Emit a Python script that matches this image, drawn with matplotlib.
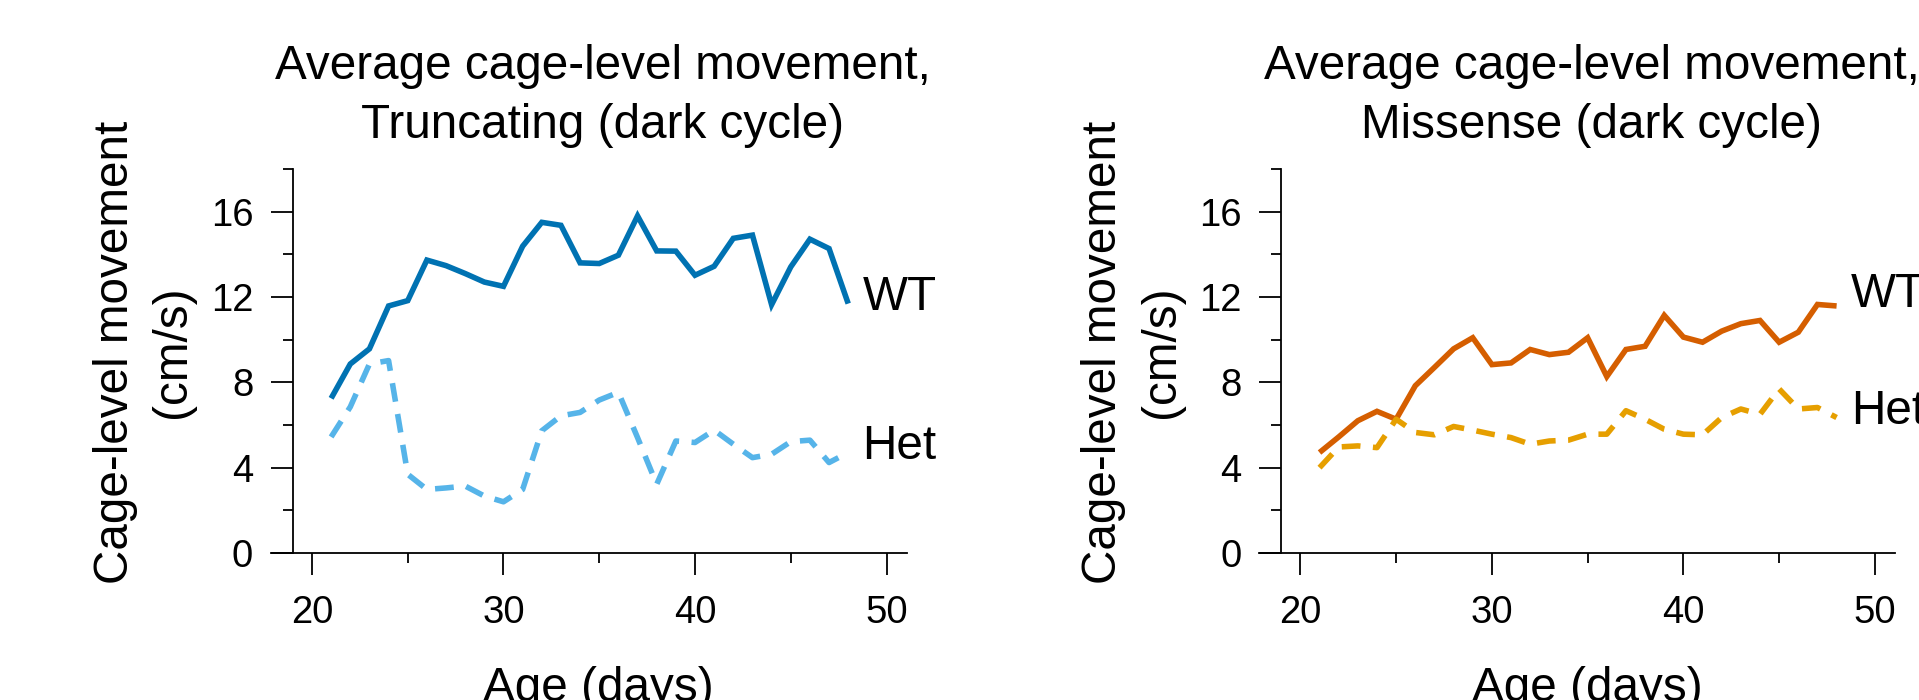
import matplotlib
matplotlib.use("Agg")
import matplotlib.pyplot as plt
from matplotlib.ticker import FixedLocator

plt.rcParams['font.family'] = ['Liberation Sans', 'DejaVu Sans']
plt.rcParams['lines.scale_dashes'] = False

# ---- data ----
days = list(range(21, 49))

trunc_wt = [7.25, 8.86, 9.57, 11.58, 11.83, 13.73, 13.47, 13.10, 12.70, 12.50,
            14.38, 15.50, 15.36, 13.60, 13.57, 13.96, 15.80, 14.16, 14.15, 13.02,
            13.44, 14.75, 14.90, 11.64, 13.41, 14.71, 14.27, 11.69]
trunc_het = [5.44, 6.85, 8.86, 9.02, 3.69, 2.98, 3.05, 3.14, 2.67, 2.40,
             2.98, 5.73, 6.43, 6.59, 7.17, 7.53, 5.41, 3.22, 5.25, 5.18,
             5.76, 5.10, 4.47, 4.63, 5.22, 5.29, 4.24, 4.71]

mis_wt = [4.71, 5.44, 6.20, 6.64, 6.27, 7.84, 8.70, 9.57, 10.09, 8.83,
          8.91, 9.54, 9.30, 9.41, 10.09, 8.27, 9.54, 9.69, 11.14, 10.12,
          9.88, 10.40, 10.75, 10.90, 9.88, 10.35, 11.65, 11.58]
mis_het = [4.00, 4.97, 5.02, 4.94, 6.27, 5.65, 5.54, 5.93, 5.76, 5.57,
           5.41, 5.10, 5.25, 5.29, 5.57, 5.57, 6.67, 6.27, 5.80, 5.57,
           5.54, 6.35, 6.75, 6.50, 7.69, 6.75, 6.82, 6.35]

titles = ["Average cage-level movement,\nTruncating (dark cycle)",
          "Average cage-level movement,\nMissense (dark cycle)"]
ylabel = "Cage-level movement\n(cm/s)"
xlabel = "Age (days)"
series_labels = ["WT", "Het"]
yticks_major = [0, 4, 8, 12, 16]
yticks_minor = [2, 6, 10, 14, 18]
xticks_major = [20, 30, 40, 50]
xticks_minor = [25, 35, 45]

colors = [("#0072B2", "#56B4E9"), ("#D55E00", "#E69F00")]
label_pos = [(12.0, 5.0), (12.1, 6.63)]

W, H = 1919, 700
fig = plt.figure(figsize=(W / 100, H / 100), dpi=100)

ax_left_px = [271, 1259.4]
ax_w_px = 636
y0_px, y18_px = 553, 169
FS = 34.3

panels = [(trunc_wt, trunc_het), (mis_wt, mis_het)]
for i, (wt, het) in enumerate(panels):
    x0 = ax_left_px[i]
    ax = fig.add_axes([x0 / W, (H - y0_px) / H, ax_w_px / W, (y0_px - y18_px) / H])
    ax.set_xlim(17.86, 51.07)
    ax.set_ylim(0, 18)
    cw, ch = colors[i]
    ax.plot(days, wt, color=cw, lw=4.0, solid_capstyle='butt', solid_joinstyle='miter')
    ax.plot(days, het, color=ch, lw=4.0, ls='--', dashes=(13.5, 9), dash_capstyle='butt')
    for sp in ['top', 'right']:
        ax.spines[sp].set_visible(False)
    ax.spines['left'].set_position(('data', 19))
    for sp in ['left', 'bottom']:
        ax.spines[sp].set_linewidth(1.3)
    ax.yaxis.set_major_locator(FixedLocator(yticks_major))
    ax.yaxis.set_minor_locator(FixedLocator(yticks_minor))
    ax.xaxis.set_major_locator(FixedLocator(xticks_major))
    ax.xaxis.set_minor_locator(FixedLocator(xticks_minor))
    ax.tick_params(axis='both', which='major', length=15.5, width=1.3, labelsize=27.5)
    ax.tick_params(axis='both', which='minor', length=7.5, width=1.3)
    ax.tick_params(axis='y', which='major', pad=13)
    ax.tick_params(axis='x', which='major', pad=15)
    ywt, yhet = label_pos[i]
    ax.text(48.75, ywt, series_labels[0], fontsize=FS, va='center', ha='left')
    ax.text(48.75, yhet, series_labels[1], fontsize=FS, va='center', ha='left')

    cx = x0 + 0.522 * ax_w_px
    fig.text(cx / W, (H - 138) / H, titles[i], fontsize=FS, ha='center', va='baseline',
             multialignment='center', linespacing=1.4)
    fig.text((x0 + 0.515 * ax_w_px) / W, (H - 701) / H, xlabel, fontsize=FS,
             ha='center', va='baseline')
    fig.text((x0 - 127) / W, (H - 352) / H, ylabel, fontsize=FS, rotation=90,
             ha='center', va='center', multialignment='center', linespacing=1.35)

fig.savefig("out.png", dpi=100)
